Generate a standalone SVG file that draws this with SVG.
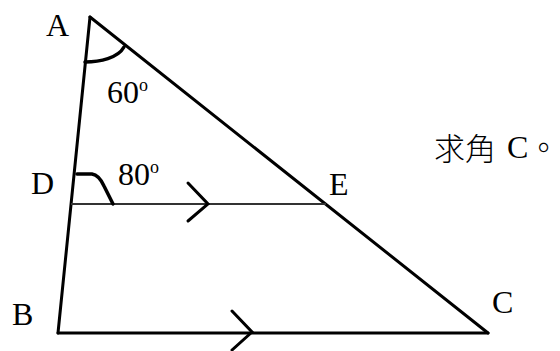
<svg xmlns="http://www.w3.org/2000/svg" width="560" height="351" viewBox="0 0 560 351">
<style>
.lbl{font-family:"Liberation Serif","Times New Roman",serif;font-size:32px;fill:#000}
.sup{font-size:18px}
.cjk{font-family:"Noto Sans CJK TC","Noto Sans CJK SC",sans-serif;font-size:31px;font-weight:300;fill:#000}
.edge{stroke:#000;stroke-width:3;fill:none;stroke-linecap:round;stroke-linejoin:round}
.thin{stroke:#333;stroke-width:2;fill:none}
.mark{stroke:#000;stroke-width:3;fill:none;stroke-linecap:round;stroke-linejoin:miter}
.arc{stroke:#000;stroke-width:3.5;fill:none;stroke-linecap:round}
</style>
<rect width="560" height="351" fill="#fff"/>
<g id="connectors">
<line class="edge" x1="90" y1="17" x2="58" y2="333"/>
<line class="edge" x1="90" y1="17" x2="488" y2="333"/>
<line class="edge" x1="58" y1="333" x2="488" y2="333"/>
<line class="thin" x1="71" y1="204" x2="326" y2="204"/>
<polyline class="mark" points="188,183 208,204 188,221"/>
<polyline class="mark" points="232,311 252,332 232,350"/>
</g>
<g id="angleA">
<path class="arc" d="M85,62 C100,62 118,58 124,47"/>
<text class="lbl" x="107" y="103">60<tspan class="sup" dy="-12">o</tspan></text>
</g>
<g id="angleD">
<path class="arc" d="M77,174 L92,174 Q99,175 104,186 L113,204"/>
<text class="lbl" x="118" y="185">80<tspan class="sup" dy="-12">o</tspan></text>
</g>
<g id="A"><text class="lbl" x="46" y="36">A</text></g>
<g id="D"><text class="lbl" x="31" y="194">D</text></g>
<g id="E"><text class="lbl" x="329" y="195">E</text></g>
<g id="B"><text class="lbl" x="12" y="325">B</text></g>
<g id="C"><text class="lbl" x="492" y="313">C</text></g>
<g id="question">
<text class="cjk" x="434" y="160">求角</text>
<text class="lbl" x="507" y="158" font-size="31">C</text>
<text class="cjk" x="528" y="159" font-size="27" font-weight="400">。</text>
</g>
</svg>
